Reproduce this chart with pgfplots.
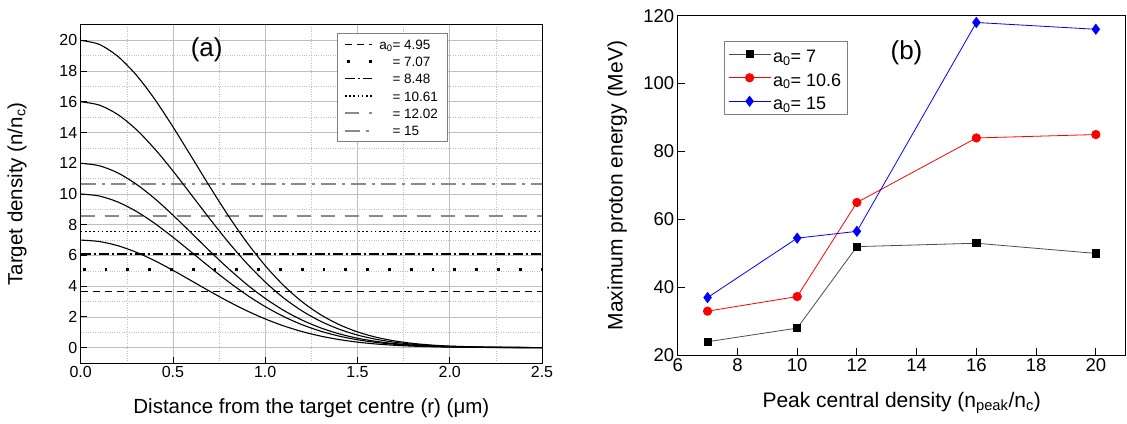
\documentclass[border=0pt]{standalone}
\usepackage{fontspec}
\setmainfont{Liberation Sans}
\usepackage{pgfplots}
\pgfplotsset{compat=1.18}
\usepackage{pgfplotstable}

\definecolor{lgray}{HTML}{8A8A8A}
\definecolor{grid}{HTML}{D2D2D2}
\newcommand\fa{\fontsize{13.5}{15}\selectfont\rule[-5pt]{0pt}{16.8pt}}
\newcommand\fb{\fontsize{18}{21}\selectfont\rule[-9pt]{0pt}{27pt}}

% density profiles
\pgfplotstableread{
r   n7    n10   n12   n16   n20
0.0 7.000 10.00 12.00 16.00 20.00
0.1 6.908 9.869 11.84 15.79 19.74
0.2 6.640 9.485 11.38 15.18 18.97
0.3 6.215 8.879 10.65 14.21 17.76
0.4 5.667 8.095 9.714 12.95 16.19
0.5 5.031 7.187 8.624 11.50 14.37
0.6 4.351 6.215 7.458 9.944 12.43
0.7 3.665 5.235 6.282 8.376 10.47
0.8 3.006 4.294 5.153 6.870 8.588
0.9 2.401 3.430 4.116 5.488 6.860
1.0 1.868 2.669 3.203 4.270 5.338
1.1 1.415 2.022 2.426 3.235 4.044
1.2 1.044 1.492 1.790 2.387 2.984
1.3 0.751 1.073 1.288 1.717 2.146
1.4 0.526 0.751 0.901 1.202 1.502
1.5 0.358 0.512 0.614 0.819 1.024
1.6 0.238 0.340 0.408 0.544 0.680
1.7 0.154 0.220 0.264 0.352 0.440
1.8 0.097 0.138 0.166 0.221 0.276
1.9 0.060 0.085 0.102 0.136 0.170
2.0 0.036 0.051 0.061 0.082 0.102
2.2 0.012 0.017 0.020 0.027 0.034
2.5 0.000 0.000 0.000 0.000 0.000
}\profiles

% maximum proton energy, panel (b)
\pgfplotstableread{
n   e7  e106  e15
7   24  33    37
10  28  37.3  54.5
12  52  65    56.5
16  53  84    118
20  50  85    116
}\energy

\begin{document}
\begin{tikzpicture}[x=1pt,y=1pt]
\useasboundingbox (0,0) rectangle (1127,423);

\begin{axis}[
  at={(80.7pt,60pt)}, anchor=south west,
  scale only axis, width=461.3pt, height=338pt,
  xmin=0, xmax=2.5, ymin=-1, ymax=21,
  xtick={0,0.5,...,2.5}, ytick={0,2,...,20},
  minor xtick={0.25,0.75,...,2.25}, minor ytick={1,3,...,19},
  xticklabel style={/pgf/number format/.cd,fixed,fixed zerofill,precision=1},
  /pgf/number format/assume math mode=true,
  tick align=inside, xtick pos=bottom, ytick pos=left,
  major tick length=6pt, minor tick length=0pt,
  axis line style={line width=1pt},
  major tick style={line width=0.9pt,black},
  grid=both,
  major grid style={grid,line width=0.8pt},
  minor grid style={grid,dotted,line width=0.6pt},
  tick label style={font=\fontsize{16}{18}\selectfont},
  label style={font=\fontsize{20.5}{24}\selectfont},
  xlabel={Distance from the target centre (r) (μm)},
  ylabel={Target density (n/n\textsubscript{c})},
  xlabel style={at={(axis description cs:0.5,-0.135)},anchor=center},
  ylabel style={at={(axis description cs:-0.138,0.5)},anchor=center},
  legend image code/.code={\draw[#1] (0pt,0pt) -- (27pt,0pt);},
  legend style={at={(axis description cs:0.556,0.976)},anchor=north west,
    draw=gray,line width=0.7pt,fill=white,
    row sep=0pt, inner xsep=6pt, inner ysep=2pt},
  legend cell align=left,
]
\addplot[black,line width=1.2pt,dash pattern=on 7pt off 5pt]
  coordinates {(0,3.65) (2.5,3.65)};
\addplot[black,line width=2.8pt,dash pattern=on 2.8pt off 19pt,dash phase=-2pt]
  coordinates {(0,5.1) (2.5,5.1)};
\addplot[black,line width=1.5pt,dash pattern=on 10pt off 3pt on 2pt off 3pt]
  coordinates {(0,6.08) (2.5,6.08)};
\addplot[black,line width=1.6pt,dash pattern=on 1.6pt off 2.6pt]
  coordinates {(0,7.55) (2.5,7.55)};
\addplot[lgray,line width=2pt,dash pattern=on 14pt off 10pt]
  coordinates {(0,8.55) (2.5,8.55)};
\addplot[lgray,line width=2pt,dash pattern=on 15pt off 6pt on 3pt off 6pt]
  coordinates {(0,10.65) (2.5,10.65)};
\legend{{\fa\hspace*{4pt}a\textsubscript{0}= 4.95\hspace*{9pt}},
  {\fa\hspace*{4pt}\phantom{a\textsubscript{0}}= 7.07},
  {\fa\hspace*{4pt}\phantom{a\textsubscript{0}}= 8.48},
  {\fa\hspace*{4pt}\phantom{a\textsubscript{0}}= 10.61},
  {\fa\hspace*{4pt}\phantom{a\textsubscript{0}}= 12.02},
  {\fa\hspace*{4pt}\phantom{a\textsubscript{0}}= 15}}
\foreach \c in {n7,n10,n12,n16,n20}{
  \addplot[black,line width=1.1pt,smooth,forget plot] table[x=r,y=\c] {\profiles};
}
\node[font=\fontsize{26}{30}\selectfont] at (axis cs:0.683,19.4) {(a)};
\end{axis}

\begin{axis}[
  at={(677.7pt,67.7pt)}, anchor=south west,
  scale only axis, width=448pt, height=339.6pt,
  xmin=6, xmax=21, ymin=20, ymax=120,
  xtick={6,8,...,20}, ytick={20,40,...,120},
  /pgf/number format/assume math mode=true,
  tick align=inside, xtick pos=bottom, ytick pos=left,
  major tick length=7pt,
  axis line style={line width=1pt},
  major tick style={line width=0.9pt,black},
  tick label style={font=\fontsize{18.5}{21}\selectfont},
  label style={font=\fontsize{21}{24}\selectfont},
  xlabel={Peak central density (n\textsubscript{peak}/n\textsubscript{c})},
  ylabel={Maximum proton energy (MeV)},
  xlabel style={at={(axis description cs:0.5,-0.14)},anchor=center},
  ylabel style={at={(axis description cs:-0.135,0.5)},anchor=center},
  legend image code/.code={\draw[mark repeat=2,mark phase=2,#1]
    plot coordinates {(0pt,0pt) (21pt,0pt) (42pt,0pt)};},
  legend style={at={(axis description cs:0.103,0.925)},anchor=north west,
    draw=gray,line width=0.7pt,fill=white,
    row sep=0pt, inner xsep=4pt, inner ysep=1pt},
  legend cell align=left,
]
\addplot[gray!60!black,line width=0.8pt,mark=square*,mark size=3.6pt,
  mark options={black,solid}] table[x=n,y=e7] {\energy};
\addplot[red,line width=0.8pt,mark=*,mark size=4.2pt,
  mark options={red,solid}] table[x=n,y=e106] {\energy};
\addplot[blue,line width=0.8pt,mark=diamond*,mark size=5pt,
  mark options={blue,solid}] table[x=n,y=e15] {\energy};
\legend{{\fb a\textsubscript{0}= 7}, {\fb a\textsubscript{0}= 10.6}, {\fb a\textsubscript{0}= 15}}
\node[font=\fontsize{26}{30}\selectfont] at (axis cs:13.66,109) {(b)};
\end{axis}
\end{tikzpicture}
\end{document}
